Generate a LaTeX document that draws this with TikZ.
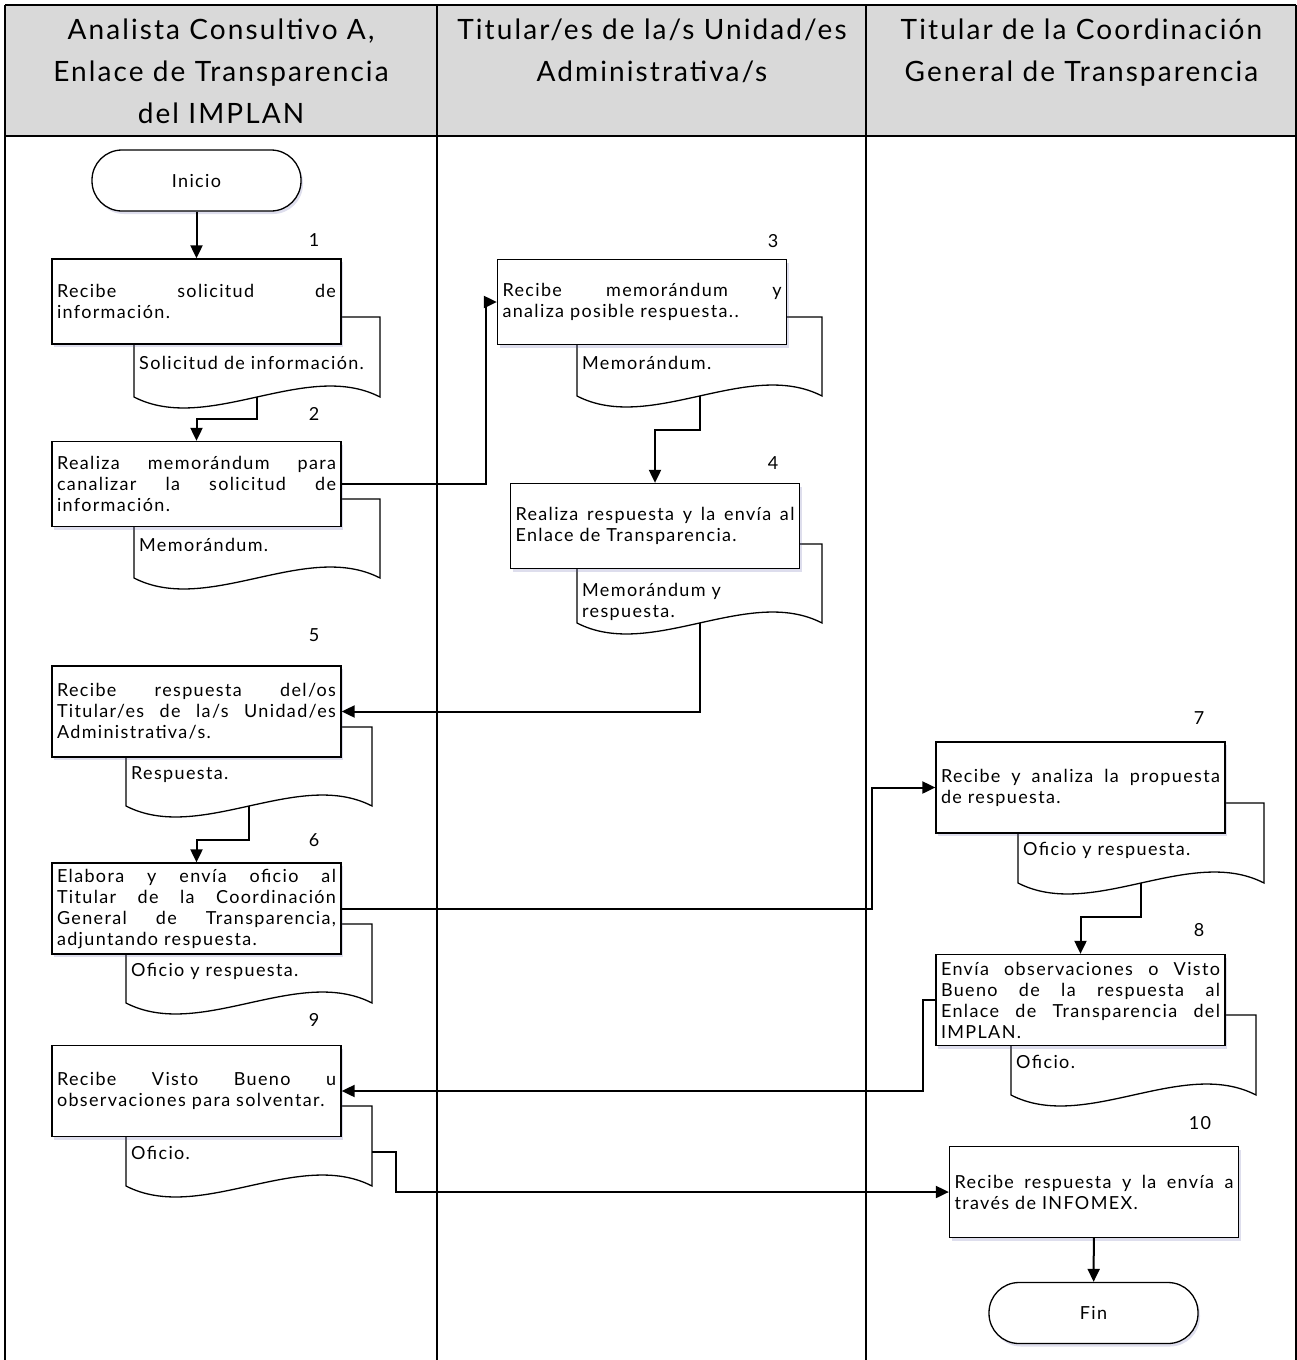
\documentclass[tikz,border=0pt]{standalone}
\usepackage{fontspec}
\setmainfont{Lato}[LetterSpace=7.5]
\usetikzlibrary{arrows.meta,positioning,shadows}

\definecolor{hdrgray}{RGB}{217,217,217}
\newcommand{\bodyfont}{\fontsize{18}{21}\selectfont}
\newcommand{\headfont}{\fontsize{28}{42}\selectfont}

% document symbol: name, x left, x right, y top, y bottom, text baseline, text
\newcommand{\docshape}[7]{%
  \draw[docline] (#2,#4) -- (#3,#4) -- (#3,#5)
    .. controls ({#3-0.3*(#3-#2)},{#5-38}) and ({#2+0.3*(#3-#2)},{#5+38}) .. (#2,#5) -- cycle;
  \coordinate (#1) at ({(#2+#3)/2},#5);
  \node[doctext, anchor=base west] (#1t) at ({#2+5},#6) {#7};
}

\begin{document}
\begin{tikzpicture}[
    x=1pt, y=-1pt,
    lane/.style={line width=2pt},
    lanehead/.style={font=\headfont, align=center, inner sep=0pt, anchor=north},
    proc/.style={rectangle, draw, line width=1.3pt, fill=white, minimum width=289pt, minimum height=85pt, text width=279pt, align=justify, inner sep=5pt, font=\bodyfont, drop shadow={shadow xshift=2pt, shadow yshift=-3pt, fill=blue!30!gray, opacity=0.2}},
    proc tall/.style={proc, minimum height=91pt},
    term/.style={rectangle, draw, rounded corners=30pt, line width=1.3pt, fill=white, minimum width=209pt, minimum height=61pt, font=\bodyfont, drop shadow={shadow xshift=2pt, shadow yshift=-3pt, fill=blue!30!gray, opacity=0.2}},
    docline/.style={draw, line width=1.3pt, fill=white},
    doctext/.style={font=\bodyfont, text width=238pt, align=left, inner sep=0pt},
    num/.style={font=\fontsize{18}{20}\selectfont, inner sep=0pt},
    flow/.style={-{Triangle[length=13pt,width=12pt]}, line width=2pt}
]
\useasboundingbox (0,0) rectangle (1297,1360);

% Swimlanes
\fill[hdrgray] (5,5) rectangle (1296,136);
\draw[lane] (5,5) -- (1296,5);
\draw[lane] (5,136) -- (1296,136);
\foreach \lx in {5,437,866,1296}
  \draw[lane] (\lx,5) -- (\lx,1360);

\node[lanehead] (h1) at (221,19) {Analista Consultivo A,\\Enlace de Transparencia\\del IMPLAN};
\node[lanehead] (h2) at (652,19) {Titular/es de la/s Unidad/es\\Administrativa/s};
\node[lanehead] (h3) at (1081.5,19) {Titular de la Coordinación\\General de Transparencia};

% Documents
\docshape{d1}{134}{380}{317}{397}{369}{Solicitud de información.}
\docshape{d2}{134}{380}{499}{578}{551}{Memorándum.}
\docshape{d3}{577}{822}{317}{396}{369}{Memorándum.}
\docshape{d4}{577}{822}{544}{623}{596}{Memorándum y\\respuesta.}
\docshape{d5}{126}{372}{727}{806}{779}{Respuesta.}
\docshape{d6}{126}{372}{924}{1003}{976}{Oficio y respuesta.}
\docshape{d7}{1018}{1264}{803}{883}{855}{Oficio y respuesta.}
\docshape{d8}{1011}{1256}{1015}{1095}{1068}{Oficio.}
\docshape{d9}{126}{372}{1106}{1186}{1159}{Oficio.}
\coordinate (d9r) at (372,1152);

% Steps
\node[term] (ini) at (196.5,180.5) {Inicio};
\node[proc] (b1) at (196.5,301.5) {Recibe solicitud de\linebreak información.};
\node[proc] (b2) at (196.5,484) {Realiza memorándum para\linebreak canalizar la solicitud de\linebreak información.};
\node[proc] (b3) at (642,302) {Recibe memorándum y\linebreak analiza posible respuesta..};
\node[proc] (b4) at (655,526) {Realiza respuesta y la envía al\linebreak Enlace de Transparencia.};
\node[proc tall] (b5) at (196.5,711.5) {Recibe respuesta del/os\linebreak Titular/es de la/s Unidad/es\linebreak Administrativa/s.};
\node[proc tall] (b6) at (196.5,908.5) {Elabora y envía oficio al\linebreak Titular de la Coordinación\linebreak General de Transparencia,\linebreak adjuntando respuesta.};
\node[proc tall] (b7) at (1080.5,787.5) {Recibe y analiza la propuesta\linebreak de respuesta.};
\node[proc tall] (b8) at (1080.5,1000) {Envía observaciones o Visto\linebreak Bueno de la respuesta al\linebreak Enlace de Transparencia del\linebreak IMPLAN.};
\node[proc tall] (b9) at (196.5,1091) {Recibe Visto Bueno u\linebreak observaciones para solventar.};
\node[proc tall] (b10) at (1094,1192) {Recibe respuesta y la envía a\linebreak través de INFOMEX.};
\node[term] (fin) at (1093.5,1313) {Fin};

% Step numbers
\node[num] (n1) at (314,240) {1};
\node[num] (n2) at (314,414) {2};
\node[num] (n3) at (773,241) {3};
\node[num] (n4) at (773,463) {4};
\node[num] (n5) at (314,635) {5};
\node[num] (n6) at (314,840) {6};
\node[num] (n7) at (1199,718) {7};
\node[num] (n8) at (1199,930) {8};
\node[num] (n9) at (314,1020) {9};
\node[num] (n10) at (1200,1123) {10};

% Arrows
\draw[flow] (ini) -- (b1);
\draw[flow] (d1) -- ++(0,22) -| (b2.north);
\draw[flow] (b2.east) -- ++(144,0) |- (b3.west);
\draw[flow] (d3) -- ++(0,34) -| (b4.north);
\draw[flow] (d4) |- (b5.east);
\draw[flow] (d5) -- ++(0,34) -| (b6.north);
\draw[flow] (b6.east) -- ++(530,0) |- (b7.west);
\draw[flow] (d7) -- ++(0,34) -| (b8.north);
\draw[flow] (b8.west) -- ++(-12,0) |- (b9.east);
\draw[flow] (d9r) -- ++(24,0) |- (b10.west);
\draw[flow] (b10) -- (fin);

\end{tikzpicture}
\end{document}
